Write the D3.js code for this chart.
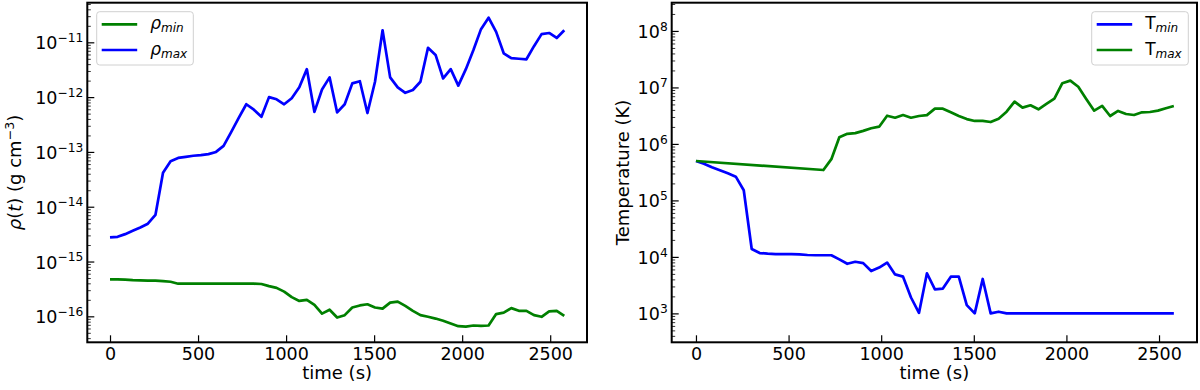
<!DOCTYPE html>
<html><head><meta charset="utf-8">
<script src="https://cdn.jsdelivr.net/npm/d3@7"></script>
<style>
body{margin:0;background:#fff}
svg{display:block}
text{font-family:"DejaVu Sans",sans-serif;fill:#000}
</style>
</head><body>
<svg id="c" width="1200" height="390"></svg>
<script>
// ---------- data ----------
const times = [0,43,86,129,172,215,258,301,344,387,430,473,516,559,602,645,688,731,774,817,860,
  903,946,989,1032,1075,1118,1161,1204,1247,1290,1333,1376,1419,1462,1505,1548,1591,1634,1677,1720,
  1763,1806,1849,1892,1935,1978,2021,2064,2107,2150,2193,2236,2279,2322,2365,2408,2451,2494,2537,2580];

const rhoMin = [4.73e-16,4.73e-16,4.68e-16,4.57e-16,4.52e-16,4.47e-16,4.47e-16,4.40e-16,4.27e-16,3.94e-16,
  3.94e-16,3.94e-16,3.94e-16,3.94e-16,3.94e-16,3.94e-16,3.94e-16,3.94e-16,3.94e-16,3.94e-16,3.89e-16,
  3.55e-16,3.31e-16,2.82e-16,2.24e-16,1.91e-16,2.0e-16,1.62e-16,1.12e-16,1.32e-16,9.5e-17,
  1.05e-16,1.45e-16,1.58e-16,1.66e-16,1.45e-16,1.38e-16,1.78e-16,1.86e-16,1.55e-16,1.26e-16,
  1.05e-16,9.8e-17,9.1e-17,8.3e-17,7.4e-17,6.6e-17,6.5e-17,6.8e-17,6.7e-17,6.8e-17,
  1.10e-16,1.17e-16,1.41e-16,1.26e-16,1.26e-16,1.05e-16,9.8e-17,1.23e-16,1.26e-16,1.02e-16];

const rhoMax = [2.75e-15,2.82e-15,3.16e-15,3.63e-15,4.17e-15,4.9e-15,7.08e-15,4.17e-14,6.76e-14,7.76e-14,
  8.13e-14,8.51e-14,8.71e-14,9.12e-14,1.0e-13,1.29e-13,2.29e-13,4.17e-13,7.41e-13,5.89e-13,4.37e-13,
  1.0e-12,9.12e-13,7.41e-13,9.55e-13,1.51e-12,3.24e-12,5.37e-13,1.38e-12,2.29e-12,5.25e-13,
  7.41e-13,1.78e-12,1.95e-12,5.13e-13,1.91e-12,1.66e-11,2.29e-12,1.51e-12,1.20e-12,1.35e-12,
  1.91e-12,7.94e-12,5.89e-12,2.19e-12,3.24e-12,1.62e-12,3.24e-12,7.24e-12,1.74e-11,2.82e-11,
  1.55e-11,6.31e-12,5.13e-12,5.01e-12,4.9e-12,8.51e-12,1.41e-11,1.48e-11,1.20e-11,1.66e-11];

const tMin = [4.98e5,4.47e5,3.85e5,3.43e5,3.02e5,2.63e5,1.51e5,1.38e4,1.17e4,1.14e4,
  1.12e4,1.12e4,1.12e4,1.11e4,1.08e4,1.07e4,1.07e4,1.07e4,9.04e3,7.55e3,8.2e3,
  7.76e3,5.62e3,6.46e3,7.94e3,4.9e3,4.47e3,1.91e3,1.02e3,5.13e3,2.66e3,
  2.75e3,4.47e3,4.47e3,1.4e3,1.0e3,4.07e3,1.0e3,1.07e3,1e3,1e3,
  1e3,1e3,1e3,1e3,1e3,1e3,1e3,1e3,1e3,1e3,
  1e3,1e3,1e3,1e3,1e3,1e3,1e3,1e3,1e3,1e3];

const tMaxTimes = [0,688,731,774,817,860,903,946,989,1032,1075,1118,1161,1204,1247,1290,1333,1376,1419,
  1462,1505,1548,1591,1634,1677,1720,1763,1806,1849,1892,1935,1978,2021,2064,2107,2150,2193,2236,
  2279,2322,2365,2408,2451,2494,2537,2580];
const tMax = [4.98e5,3.45e5,5.37e5,1.31e6,1.51e6,1.55e6,1.70e6,1.89e6,2.02e6,3.16e6,2.91e6,3.25e6,2.91e6,
  3.12e6,3.24e6,4.21e6,4.21e6,3.63e6,3.12e6,2.75e6,2.55e6,2.55e6,2.44e6,2.80e6,3.72e6,5.60e6,4.39e6,
  4.83e6,4.10e6,5.09e6,6.31e6,1.19e7,1.32e7,1.03e7,6.25e6,3.88e6,4.70e6,3.12e6,3.83e6,3.39e6,3.25e6,
  3.63e6,3.67e6,3.88e6,4.28e6,4.70e6];

const xTicks = [0,500,1000,1500,2000,2500];
const rhoTickExps = [-16,-15,-14,-13,-12,-11];
const tempTickExps = [3,4,5,6,7,8];

// ---------- drawing ----------
const svg = d3.select("#c");
const BLUE = "#0000ff", GREEN = "#008000";

function superscriptLabel(sel, base, exp, size) {
  sel.append("tspan").text(base);
  sel.append("tspan").attr("font-size", size*0.7).attr("dy", -size*0.42)
     .text(String(exp).replace("-", "\u2212"));
}

function panel(cfg) {
  const g = svg.append("g");
  const x = d3.scaleLinear().domain(cfg.xDomain).range([cfg.x0, cfg.x1]);
  const y = d3.scaleLog().domain(cfg.yDomain).range([cfg.y1, cfg.y0]);

  // series
  cfg.series.forEach(s => {
    const pts = s.xs.map((t, i) => [t, s.ys[i]]);
    g.append("path").datum(pts)
      .attr("fill", "none").attr("stroke", s.color).attr("stroke-width", 2.7)
      .attr("stroke-linejoin", "round").attr("stroke-linecap", "butt")
      .attr("d", d3.line().x(d => x(d[0])).y(d => y(d[1])));
  });

  // x axis (ticks inward)
  const xa = g.append("g").attr("transform", `translate(0,${cfg.y1})`)
    .call(d3.axisBottom(x).tickValues(xTicks).tickSizeInner(-7).tickSizeOuter(0).tickPadding(6).tickFormat(d3.format("d")));
  xa.select(".domain").remove();
  xa.selectAll(".tick line").attr("stroke", "#000").attr("stroke-width", 1.2);
  xa.selectAll(".tick text").attr("font-size", 17.5).attr("font-family", "DejaVu Sans").attr("fill", "#000")
    .attr("dy", "0.75em").attr("y", 5);

  // y major ticks
  const majors = cfg.tickExps.map(e => Math.pow(10, e));
  const ya = g.append("g").attr("transform", `translate(${cfg.x0},0)`)
    .call(d3.axisLeft(y).tickValues(majors).tickSizeInner(-7).tickSizeOuter(0).tickPadding(4).tickFormat(() => ""));
  ya.select(".domain").remove();
  ya.selectAll(".tick line").attr("stroke", "#000").attr("stroke-width", 1.2);
  ya.selectAll(".tick text").each(function(d, i) {
    const t = d3.select(this).attr("font-size", 17.5).attr("font-family", "DejaVu Sans")
      .attr("text-anchor", "end").attr("dy", null).attr("y", 6.5).attr("x", -4).text(null);
    superscriptLabel(t, "10", cfg.tickExps[i], 17.5);
  });

  // y minor ticks
  const minors = [];
  const lo = Math.floor(Math.log10(cfg.yDomain[0])), hi = Math.ceil(Math.log10(cfg.yDomain[1]));
  for (let e = lo; e < hi; e++) for (let m = 2; m <= 9; m++) {
    const v = m * Math.pow(10, e);
    if (v >= cfg.yDomain[0] && v <= cfg.yDomain[1]) minors.push(v);
  }
  const ym = g.append("g").attr("transform", `translate(${cfg.x0},0)`)
    .call(d3.axisLeft(y).tickValues(minors).tickSizeInner(-3.5).tickSizeOuter(0).tickFormat(() => ""));
  ym.select(".domain").remove();
  ym.selectAll(".tick line").attr("stroke", "#000").attr("stroke-width", 0.8);

  // frame
  g.append("rect").attr("x", cfg.x0).attr("y", cfg.y0).attr("width", cfg.x1 - cfg.x0).attr("height", cfg.y1 - cfg.y0)
    .attr("fill", "none").attr("stroke", "#000").attr("stroke-width", 2);

  // x label
  g.append("text").attr("x", (cfg.x0 + cfg.x1) / 2).attr("y", 379).attr("text-anchor", "middle")
    .attr("font-size", 18).text("time (s)");

  // y label
  const yl = g.append("text").attr("transform", `translate(${cfg.ylabelX},${(cfg.y0 + cfg.y1) / 2}) rotate(-90)`)
    .attr("text-anchor", "middle").attr("font-size", 18);
  cfg.ylabel(yl);

  // legend
  const L = cfg.legend;
  const lg = g.append("g");
  lg.append("rect").attr("x", L.x).attr("y", L.y).attr("width", L.w).attr("height", L.h).attr("rx", 3)
    .attr("fill", "#fff").attr("fill-opacity", 0.8).attr("stroke", "#d0d0d0").attr("stroke-width", 1);
  L.items.forEach((it, i) => {
    const cy = L.y + 12.6 + i * 25.7;
    lg.append("line").attr("x1", L.x + 5).attr("x2", L.x + 40.5).attr("y1", cy).attr("y2", cy)
      .attr("stroke", it.color).attr("stroke-width", 2.7);
    const t = lg.append("text").attr("x", L.x + 53.5).attr("y", cy + 5).attr("font-size", 17);
    t.append("tspan").attr("font-style", it.baseItalic ? "italic" : "normal").text(it.base);
    t.append("tspan").attr("font-style", "italic").attr("font-size", 12).attr("dy", 3).text(it.sub);
  });
}

panel({
  x0: 87.3, x1: 587, y0: 2.7, y1: 342.3,
  xDomain: [-129, 2709], yDomain: [Math.pow(10, -16.474), Math.pow(10, -10.277)],
  tickExps: rhoTickExps,
  series: [{xs: times, ys: rhoMin, color: GREEN}, {xs: times, ys: rhoMax, color: BLUE}],
  ylabelX: 21,
  ylabel: t => {
    t.append("tspan").attr("font-style", "italic").text("\u03C1");
    t.append("tspan").text("(");
    t.append("tspan").attr("font-style", "italic").text("t");
    t.append("tspan").text(") (g cm");
    t.append("tspan").attr("font-size", 12.6).attr("dy", -7).text("\u22123");
    t.append("tspan").attr("dy", 7).text(")");
  },
  legend: {x: 96.7, y: 11.7, w: 96.6, h: 53.3, items: [
    {color: GREEN, base: "\u03C1", baseItalic: true, sub: "min"},
    {color: BLUE, base: "\u03C1", baseItalic: true, sub: "max"}]}
});

panel({
  x0: 671.7, x1: 1197, y0: 2.7, y1: 342.3,
  xDomain: [-131, 2705], yDomain: [Math.pow(10, 2.488), Math.pow(10, 8.5)],
  tickExps: tempTickExps,
  series: [{xs: times, ys: tMin, color: BLUE}, {xs: tMaxTimes, ys: tMax, color: GREEN}],
  ylabelX: 628.5,
  ylabel: t => t.text("Temperature (K)"),
  legend: {x: 1091.7, y: 11.7, w: 96.6, h: 53.3, items: [
    {color: BLUE, base: "T", baseItalic: false, sub: "min"},
    {color: GREEN, base: "T", baseItalic: false, sub: "max"}]}
});
</script>
</body></html>
